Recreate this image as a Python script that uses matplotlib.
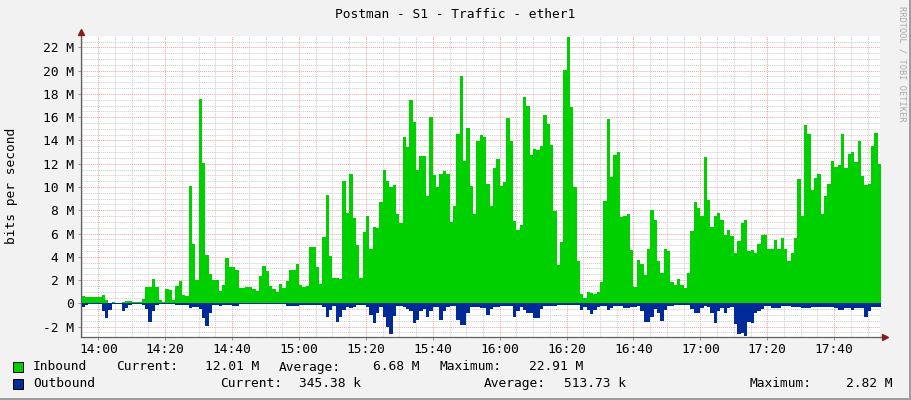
import numpy as np
import matplotlib
matplotlib.use("Agg")
import matplotlib.pyplot as plt
from matplotlib.patches import Rectangle

W, H = 911, 400

# minutes relative to 14:00, first sample at 13:55
t_start = -5
inbound = [
    0.65,0.55,0.55,0.55,0.55,0.55,0.7,0.3,0.05,0.1,
    0.02,0.02,0.15,0.2,0.2,0.1,0.08,0.08,0.4,1.4,
    1.4,2.05,1.4,0.3,0.15,1.2,1.15,0.3,1.5,1.95,
    0.75,0.65,10.1,5.1,2.0,17.6,12.1,4.15,2.5,2.0,
    2.0,1.06,1.6,3.9,3.1,3.1,2.9,1.35,1.35,1.4,
    1.4,1.2,1.06,2.35,3.2,2.8,1.5,1.2,1.0,1.7,
    1.35,1.95,2.9,2.85,3.35,1.6,1.4,1.5,4.8,4.8,
    3.1,1.65,5.7,9.3,4.1,2.15,2.15,2.06,10.5,7.8,
    11.1,7.3,5.0,2.2,6.1,7.5,4.7,6.6,6.5,8.7,
    11.5,10.5,10.0,10.2,7.7,6.9,14.3,13.4,17.5,15.6,
    11.5,12.7,12.7,9.25,16.0,11.0,10.0,11.1,11.35,11.1,
    7.0,8.4,14.55,19.5,12.2,15.1,10.1,7.7,13.95,14.5,
    14.3,10.25,8.4,11.65,12.4,10.1,10.4,15.9,13.95,7.1,
    6.3,6.7,17.7,17.0,12.75,13.3,13.2,13.5,16.2,15.4,
    13.6,7.9,3.3,5.3,20.05,22.91,16.85,10.0,3.65,0.8,
    0.43,0.95,0.86,0.8,0.95,1.8,8.8,15.85,10.9,12.75,
    13.0,7.45,7.5,7.7,4.6,1.43,3.7,3.4,2.4,4.7,
    8.0,7.2,3.6,2.65,4.7,4.5,1.85,1.6,2.06,1.6,
    1.3,2.65,6.2,8.7,8.2,7.5,12.55,8.9,6.6,7.5,
    7.8,7.16,5.9,6.3,5.8,4.35,5.35,6.9,7.2,4.5,
    4.6,4.35,5.1,5.9,5.9,4.7,4.7,5.45,4.7,5.6,
    4.65,3.65,4.35,5.6,10.65,7.5,15.3,14.55,9.75,10.75,
    11.1,7.7,9.2,10.25,12.25,11.75,11.9,14.55,11.65,12.85,
    13.0,12.15,13.95,10.95,10.2,10.25,13.5,14.6,12.01,
]
outbound = [
    0.3,0.1,0.05,0.05,0.05,0.05,0.7,1.3,0.6,0.03,
    0.03,0.03,0.7,0.4,0.1,0.05,0.05,0.05,0.1,0.5,
    1.6,0.7,0.15,0.05,0.05,0.05,0.05,0.05,0.15,0.1,
    0.1,0.15,0.4,0.3,0.3,0.5,1.3,1.95,0.85,0.15,
    0.15,0.2,0.1,0.1,0.1,0.2,0.2,0.06,0.06,0.06,
    0.06,0.06,0.06,0.06,0.06,0.06,0.06,0.06,0.06,0.06,
    0.06,0.2,0.2,0.2,0.2,0.1,0.1,0.1,0.1,0.1,
    0.1,0.1,0.3,1.2,0.6,0.2,1.6,1.2,0.55,0.35,
    0.4,0.35,0.17,0.17,0.17,0.3,1.0,1.7,0.8,0.35,
    1.2,2.0,2.65,1.1,0.25,0.25,0.3,0.45,0.7,1.7,
    1.4,0.7,0.5,1.2,0.7,0.3,0.3,1.4,0.7,0.35,
    0.25,0.25,1.45,1.9,1.85,0.85,0.35,0.35,0.35,0.38,
    0.38,1.0,0.5,0.35,0.35,0.25,0.25,0.25,0.25,1.15,
    0.65,0.3,0.6,0.8,0.85,1.3,1.3,0.5,0.25,0.25,
    0.25,0.25,0.18,0.18,0.18,0.18,0.18,0.18,0.18,0.6,
    0.35,0.57,0.95,0.57,0.35,0.25,0.25,0.6,0.43,0.25,
    0.25,0.25,0.38,0.38,0.3,0.3,0.25,0.7,1.6,1.6,
    1.15,0.5,0.85,1.5,0.57,0.25,0.25,0.1,0.1,0.1,
    0.1,0.1,0.5,0.85,0.85,0.43,0.25,0.35,0.8,1.66,
    0.7,0.43,0.8,0.43,0.35,1.8,2.65,2.55,2.82,1.6,
    1.7,0.85,0.7,0.5,0.25,0.25,0.38,0.38,0.38,0.25,
    0.25,0.25,0.3,0.3,0.3,0.43,0.43,0.43,0.35,0.35,
    0.35,0.35,0.35,0.35,0.35,0.38,0.57,0.57,0.43,0.43,
    0.57,0.43,0.43,0.43,1.2,0.7,0.35,0.35,0.345,
]
x_tick_minutes = [0, 20, 40, 60, 80, 100, 120, 140, 160, 180, 200, 220]
x_tick_labels = ["14:00", "14:20", "14:40", "15:00", "15:20", "15:40",
                 "16:00", "16:20", "16:40", "17:00", "17:20", "17:40"]
y_ticks = [-2, 0, 2, 4, 6, 8, 10, 12, 14, 16, 18, 20, 22]
y_tick_labels = ["-2 M", "0", "2 M", "4 M", "6 M", "8 M", "10 M", "12 M",
                 "14 M", "16 M", "18 M", "20 M", "22 M"]
title = "Postman - S1 - Traffic - ether1"
legend_rows = [
    ("#00CF00", [("Inbound", 33), ("Current:", 116), ("12.01 M", 205),
                 ("Average:", 279), ("6.68 M", 373), ("Maximum:", 440), ("22.91 M", 529)]),
    ("#002A97", [("Outbound", 33), ("Current:", 220), ("345.38 k", 299),
                 ("Average:", 484), ("513.73 k", 564), ("Maximum:", 749), ("2.82 M", 846)]),
]

FONT = "DejaVu Sans Mono"
FS = 9.3

def fx(x):
    return x / W

def fy(y):
    return 1 - y / H

fig = plt.figure(figsize=(W / 100, H / 100), dpi=100, facecolor="#F2F2F2")

# plot area in pixels
L, R, T, B = 81, 880, 36.3, 336.5
ax = fig.add_axes([fx(L), fy(B), (R - L) / W, (B - T) / H])
ax.set_facecolor("white")

n = len(inbound)
t = np.arange(t_start, t_start + n + 1)
inb = np.append(inbound, inbound[-1])
outb = -np.append(outbound, outbound[-1])

ax.fill_between(t, 0, inb, step="post", color="#00CF00", lw=0, zorder=3)
ax.fill_between(t, 0, outb, step="post", color="#002A97", lw=0, zorder=3)

ymin, ymax = -2.85, 22.95
xmin, xmax = -5.17, 233.7
ax.set_xlim(xmin, xmax)
ax.set_ylim(ymin, ymax)

# grid
for v in np.arange(-2.5, 23.0, 0.5):
    if abs(v / 2 - round(v / 2)) > 1e-6:
        ax.axhline(v, color="#CCCCCC", lw=0.7, ls=(0, (1, 1)), zorder=1)
for v in y_ticks:
    ax.axhline(v, color="#F2A0A0", lw=0.7, ls=(0, (1, 1)), zorder=1.5)
for m in range(-5, 235, 5):
    if m % 20 != 0:
        ax.axvline(m, color="#CCCCCC", lw=0.7, ls=(0, (1, 1)), zorder=1)
for m in x_tick_minutes:
    ax.axvline(m, color="#F2A0A0", lw=0.7, ls=(0, (1, 1)), zorder=1.5)

ax.set_xticks(x_tick_minutes)
ax.set_xticklabels(x_tick_labels, fontfamily=FONT, fontsize=FS)
ax.set_yticks(y_ticks)
ax.set_yticklabels(y_tick_labels, fontfamily=FONT, fontsize=FS)
ax.tick_params(axis="both", length=2, width=0.7, color="#999999", pad=3)

for s in ["top", "right"]:
    ax.spines[s].set_visible(False)
for s in ["left", "bottom"]:
    ax.spines[s].set_color("#606060")
    ax.spines[s].set_linewidth(0.9)

# axis arrows
ax.plot([xmin], [ymax + 0.35], marker="^", color="#8B1A1A", ms=4, clip_on=False, zorder=5)
ax.plot([xmax + 1.5], [ymin], marker=">", color="#8B1A1A", ms=4, clip_on=False, zorder=5)
ax.plot([xmax, xmax + 1.5], [ymin, ymin], color="#606060", lw=0.9, clip_on=False)

# texts
fig.text(fx(455.5), fy(14), title, ha="center", va="center", fontfamily=FONT, fontsize=FS)
fig.text(fx(12), fy(186), "bits per second", rotation=90, ha="center", va="center",
         fontfamily=FONT, fontsize=FS)
fig.text(fx(902), fy(6), "RRDTOOL / TOBI OETIKER", rotation=270, ha="center", va="top",
         fontfamily=FONT, fontsize=6.2, color="#AAAAAA")

for i, (col, items) in enumerate(legend_rows):
    yc = 367 + 16.5 * i
    fig.patches.append(Rectangle((fx(13), fy(yc + 5)), 10 / W, 10 / H, transform=fig.transFigure,
                                 facecolor=col, edgecolor="black", lw=0.7))
    for txt, xp in items:
        fig.text(fx(xp), fy(yc), txt, ha="left", va="center", fontfamily=FONT, fontsize=FS)

# frame shading
fig.patches.append(Rectangle((fx(909), 0), 2 / W, 1, transform=fig.transFigure,
                             facecolor="#9E9E9E", edgecolor="none"))
fig.patches.append(Rectangle((0, 0), 1, 2 / H, transform=fig.transFigure,
                             facecolor="#9E9E9E", edgecolor="none"))

fig.savefig("out.png", dpi=100, facecolor=fig.get_facecolor())
